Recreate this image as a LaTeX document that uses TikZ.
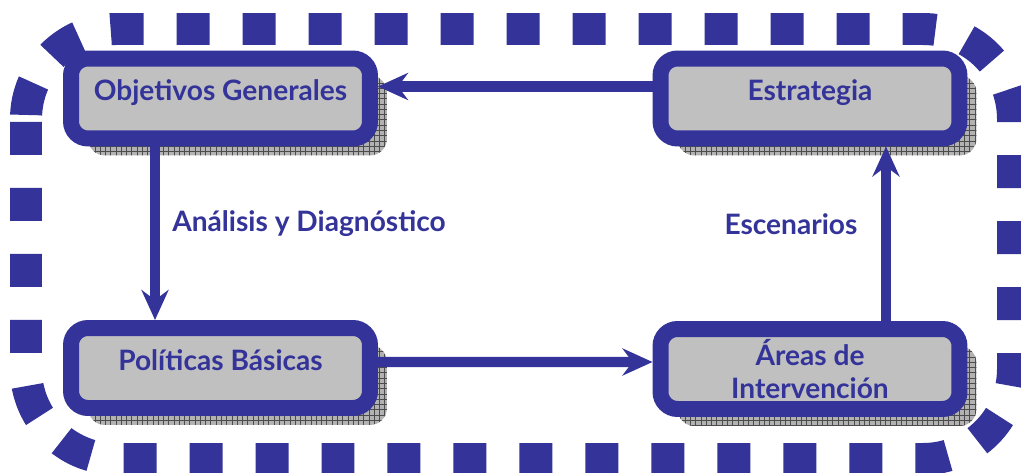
\documentclass[tikz,border=0pt]{standalone}
\usepackage{fontspec}
\setmainfont{Lato}
\usetikzlibrary{arrows.meta,patterns,calc}
\definecolor{azul}{RGB}{51,51,153}
\definecolor{gris}{RGB}{192,192,192}

\tikzset{
	caja/.style={draw=azul,line width=9.1pt,fill=gris,rounded corners=0.34cm,
		minimum width=5.98cm,minimum height=1.6cm,align=center,
		text=azul,font=\bfseries\fontsize{16}{19}\selectfont},
	subir/.style={text depth=0.33cm},
	sombra/.style={fill=gray!60,rounded corners=0.34cm,minimum width=5.98cm,
		minimum height=1.6cm,postaction={pattern=grid,pattern color=black!70}},
	flecha/.style={draw=azul,line width=5.7pt,
		-{Stealth[length=0.6cm,width=0.54cm,inset=0.2cm]}},
	etiqueta/.style={text=azul,font=\bfseries\fontsize{16}{19}\selectfont},
	marco/.style={draw=azul,line width=0.64cm,rounded corners=1.8cm,
		dash pattern=on 0.66cm off 0.66cm}
}

\begin{document}
\begin{tikzpicture}[x=0.02cm,y=-0.02cm]
	\useasboundingbox (0,0) rectangle (1021,473);
	% marco exterior
	\draw[marco] (26,122) -- (26,459) -- (1013,459) -- (1013,29) -- (26,29) -- (26,121);
	% sombras
	\node[sombra] (obj-s) at (237.5,115.5) {};
	\node[sombra] (est-s) at (827,115.5) {};
	\node[sombra] (pol-s) at (237.5,385) {};
	\node[sombra] (are-s) at (827,386) {};
	% cajas
	\node[caja,subir] (obj) at (220.5,98.5) {Objetivos Generales};
	\node[caja,subir] (est) at (810,98.5) {Estrategia};
	\node[caja,subir] (pol) at (220.5,368) {Políticas Básicas};
	\node[caja] (are) at (810,369) {Áreas de\\Intervención};
	% flechas
	\draw[flecha] ([yshift=0.24cm]est.west) -- ([yshift=0.24cm]obj.east);
	\draw[flecha] ([xshift=-1.31cm]obj.south) -- ([xshift=-1.31cm]pol.north);
	\draw[flecha] ([yshift=0.12cm]pol.east) -- ([yshift=0.14cm]are.west);
	\draw[flecha] ([xshift=1.52cm]are.north) -- ([xshift=1.52cm]est.south);
	% etiquetas
	\node[etiqueta] (ana) at (309,224) {Análisis y Diagnóstico};
	\node[etiqueta] (esc) at (791,224) {Escenarios};
\end{tikzpicture}
\end{document}
